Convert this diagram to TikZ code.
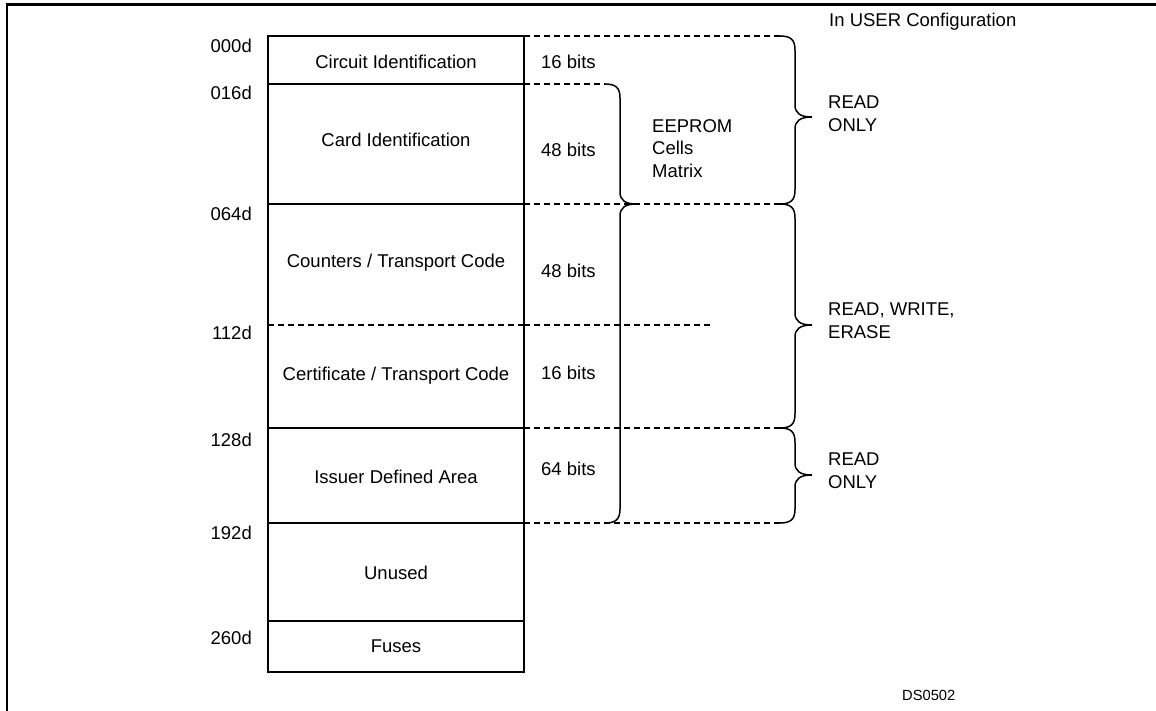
\documentclass[tikz,border=0pt]{standalone}
\usepackage{fontspec}
\setmainfont{Liberation Sans}
\newcommand\rightbrace[5]{% x0, xv, xtip, top, tip, bottom given as #1..#5 with xv=#1+15
  \draw[brace line] (#1,#3) .. controls ({#1+11},#3) and ({#1+15},{#3+4}) .. ({#1+15},{#3+14})
    -- ({#1+15},{#4-12}) .. controls ({#1+15},{#4-4}) and ({#1+20},#4) .. (#2,#4)
    .. controls ({#1+20},#4) and ({#1+15},{#4+4}) .. ({#1+15},{#4+12})
    -- ({#1+15},{#5-14}) .. controls ({#1+15},{#5-4}) and ({#1+11},#5) .. (#1,#5);}
\begin{document}
\begin{tikzpicture}[x=1pt,y=-1pt,
  txt/.style={font=\fontsize{18.5}{22.5}\selectfont, inner sep=0pt},
  small/.style={font=\fontsize{14.7}{18}\selectfont, inner sep=0pt},
  frameline/.style={line width=2.4pt},
  boxline/.style={line width=2.2pt},
  dashline/.style={line width=1.3pt, dash pattern=on 6pt off 4pt},
  boxdash/.style={line width=2pt, dash pattern=on 6pt off 4pt},
  brace line/.style={line width=1.5pt}]
\useasboundingbox (0,0) rectangle (1156,711);
% frame
\draw[frameline] (1156,4.5) -- (7,4.5) -- (7,711);
% memory box
\draw[boxline] (268,36) rectangle (524,672);
\foreach \yy in {84,204,428,523,621} \draw[boxline] (268,\yy) -- (524,\yy);
\draw[boxdash] (268,325) -- (524,325);
% dashed extension lines
\draw[dashline] (524,36) -- (780,36);
\draw[dashline] (524,84) -- (605,84);
\draw[dashline] (524,204) -- (780,204);
\draw[dashline] (524,325) -- (710,325);
\draw[dashline] (524,428) -- (780,428);
\draw[dashline] (524,523) -- (780,523);
% braces
\rightbrace{605}{636}{84}{204}{523}
\rightbrace{780}{812}{36}{117}{204}
\rightbrace{780}{812}{204}{325}{428}
\rightbrace{780}{812}{428}{475}{523}
% addresses
\node[txt, anchor=base east] (a000) at (252,53) {000d};
\node[txt, anchor=base east] (a016) at (252,100) {016d};
\node[txt, anchor=base east] (a064) at (252,221) {064d};
\node[txt, anchor=base east] (a112) at (252,339) {112d};
\node[txt, anchor=base east] (a128) at (252,446) {128d};
\node[txt, anchor=base east] (a192) at (252,539) {192d};
\node[txt, anchor=base east] (a260) at (252,644) {260d};
% row names
\node[txt, anchor=base] (r1) at (396,69) {Circuit Identification};
\node[txt, anchor=base] (r2) at (396,147) {Card Identification};
\node[txt, anchor=base] (r3) at (396,268) {Counters / Transport Code};
\node[txt, anchor=base] (r4) at (396,380) {Certificate / Transport Code};
\node[txt, anchor=base] (r5) at (396,483) {Issuer Defined Area};
\node[txt, anchor=base] (r6) at (396,579) {Unused};
\node[txt, anchor=base] (r7) at (396,652) {Fuses};
% sizes
\node[txt, anchor=base west] (b1) at (541,69) {16 bits};
\node[txt, anchor=base west] (b2) at (541,157) {48 bits};
\node[txt, anchor=base west] (b3) at (541,277) {48 bits};
\node[txt, anchor=base west] (b4) at (541,379) {16 bits};
\node[txt, anchor=base west] (b5) at (541,475) {64 bits};
% brace labels
\node[txt, anchor=north west, align=left] (eep) at (652,119) {EEPROM\\Cells\\Matrix};
\node[txt, anchor=north west, align=left] (ro1) at (828,96) {READ\\ONLY};
\node[txt, anchor=north west, align=left] (rwe) at (828,303) {READ, WRITE,\\ERASE};
\node[txt, anchor=north west, align=left] (ro2) at (828,453) {READ\\ONLY};
\node[txt, anchor=base west] (cfg) at (829,27) {In USER Configuration};
\node[small, anchor=base west] (ds) at (902,700) {DS0502};
\end{tikzpicture}
\end{document}
